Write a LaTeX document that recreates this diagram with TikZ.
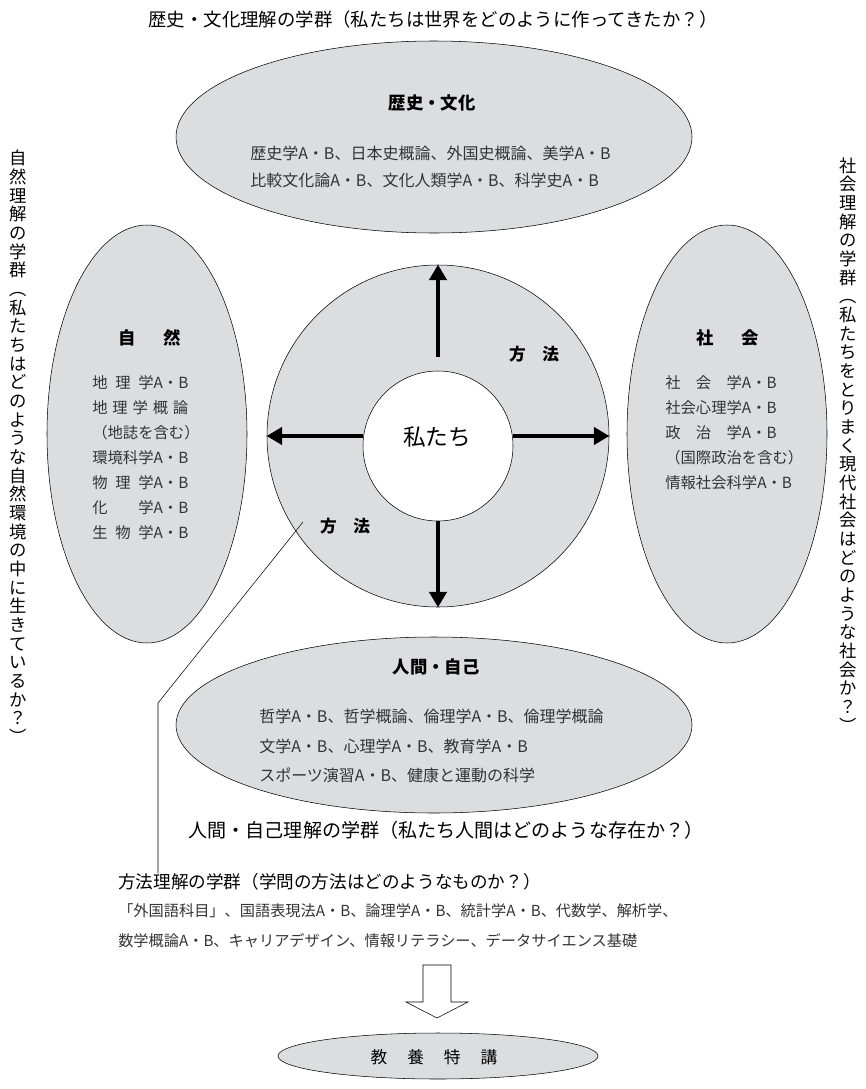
\documentclass[tikz,border=0pt]{standalone}
\usepackage{fontspec}
\usepackage{calc}
\setmainfont{Noto Sans CJK JP}
\usetikzlibrary{shapes.geometric,arrows.meta}

\definecolor{bubblegray}{HTML}{DCDDDF}
\definecolor{inkgray}{HTML}{333333}

\tikzset{
  bubble/.style={ellipse, draw=black, line width=0.4pt, fill=bubblegray, inner sep=0pt},
  ringarrow/.style={line width=2.3pt, -{Triangle[length=11.5pt,width=13pt]}},
  grouplabel/.style={inner sep=0pt, font=\fontsize{13.8}{16}\selectfont},
  fieldhead/.style={inner sep=0pt, font=\fontsize{13}{16}\selectfont\bfseries},
  courselist/.style={inner sep=0pt, align=left, text=inkgray},
  vlabel/.style={inner sep=0pt, align=center, font=\fontsize{13}{14}\selectfont},
}

\begin{document}
\begin{tikzpicture}[x=0.75pt,y=-0.75pt]
  \useasboundingbox (0,0) rectangle (866,1089);

  % four fields round the centre
  \node[bubble, minimum width=387pt, minimum height=144pt] (hist) at (434,137) {};
  \node[bubble, minimum width=150pt, minimum height=313.5pt] (nature) at (147,434) {};
  \node[bubble, minimum width=150pt, minimum height=313.5pt] (society) at (727,434) {};
  \node[bubble, minimum width=387pt, minimum height=132pt] (self) at (434,725) {};

  % method ring and us
  \node[circle, draw=black, line width=0.4pt, fill=bubblegray, minimum size=256.5pt, inner sep=0pt] (ring) at (438,436) {};
  \node[circle, draw=black, line width=0.4pt, fill=white, minimum size=112.5pt, inner sep=0pt] (us) at (438,446) {};
  \node[inner sep=0pt, font=\fontsize{17}{20}\selectfont] (uslabel) at (437,437) {私たち};
  \node[fieldhead, font=\fontsize{12.5}{15}\selectfont\bfseries] (methup) at (534,354) {方\hspace{1em}法};
  \node[fieldhead, font=\fontsize{12.5}{15}\selectfont\bfseries] (methdown) at (345,526) {方\hspace{1em}法};

  \draw[ringarrow] ([yshift=10pt]us.north) -- (ring.north);
  \draw[ringarrow] (ring.center -| us.west) -- (ring.west);
  \draw[ringarrow] (ring.center -| us.east) -- (ring.east);
  \draw[ringarrow] (us.south) -- (ring.south);

  % field texts
  \node[fieldhead] (histhead) at (432,103) {歴史・文化};
  \node[courselist, anchor=west, font=\fontsize{12}{20.25}\selectfont] (histlist) at (250,166.5)
    {歴史学A・B、日本史概論、外国史概論、美学A・B\\
     比較文化論A・B、文化人類学A・B、科学史A・B};

  \node[fieldhead] (naturehead) at (150,338) {自\hspace{1.6em}然};
  \node[courselist, anchor=west, font=\fontsize{11.5}{18.75}\selectfont] (naturelist) at (92,457.5)
    {\makebox[\widthof{環境科学}][s]{地\hfill 理\hfill 学}A・B\\
     \makebox[\widthof{環境科学A・B}][s]{地\hfill 理\hfill 学\hfill 概\hfill 論}\\
     （地誌を含む）\\
     環境科学A・B\\
     \makebox[\widthof{環境科学}][s]{物\hfill 理\hfill 学}A・B\\
     \makebox[\widthof{環境科学}][s]{化\hfill 学}A・B\\
     \makebox[\widthof{環境科学}][s]{生\hfill 物\hfill 学}A・B};

  \node[fieldhead] (societyhead) at (728,338) {社\hspace{1.6em}会};
  \node[courselist, anchor=west, font=\fontsize{11.5}{18.75}\selectfont] (societylist) at (665,433)
    {\makebox[\widthof{社会心理学}][s]{社\hfill 会\hfill 学}A・B\\
     社会心理学A・B\\
     \makebox[\widthof{社会心理学}][s]{政\hfill 治\hfill 学}A・B\\
     （国際政治を含む）\\
     情報社会科学A・B};

  \node[fieldhead] (selfhead) at (436,667) {人間・自己};
  \node[courselist, anchor=west, font=\fontsize{12}{22}\selectfont] (selflist) at (259,746)
    {哲学A・B、哲学概論、倫理学A・B、倫理学概論\\
     文学A・B、心理学A・B、教育学A・B\\
     スポーツ演習A・B、健康と運動の科学};

  % group names
  \node[grouplabel] (histgroup) at (433,20) {歴史・文化理解の学群（私たちは世界をどのように作ってきたか？）};
  \node[grouplabel, font=\fontsize{14.3}{16}\selectfont] (selfgroup) at (446,830) {人間・自己理解の学群（私たち人間はどのような存在か？）};
  \node[vlabel] (naturegroup) at (18,447)
    {自\\然\\理\\解\\の\\学\\群\\︵\\私\\た\\ち\\は\\ど\\の\\よ\\う\\な\\自\\然\\環\\境\\の\\中\\に\\生\\き\\て\\い\\る\\か\\？\\︶};
  \node[vlabel] (societygroup) at (848,445)
    {社\\会\\理\\解\\の\\学\\群\\︵\\私\\た\\ち\\を\\と\\り\\ま\\く\\現\\代\\社\\会\\は\\ど\\の\\よ\\う\\な\\社\\会\\か\\？\\︶};

  % method group and its leader
  \node[grouplabel, font=\fontsize{13.2}{16}\selectfont, anchor=west] (methgroup) at (118,882) {方法理解の学群（学問の方法はどのようなものか？）};
  \node[courselist, anchor=north west, font=\fontsize{11.4}{22.5}\selectfont] (methlist) at (118,903)
    {「外国語科目」、国語表現法A・B、論理学A・B、統計学A・B、代数学、解析学、\\
     数学概論A・B、キャリアデザイン、情報リテラシー、データサイエンス基礎};
  \coordinate (leadstart) at (303,522);
  \coordinate (leadbend) at (158,703);
  \draw[line width=0.4pt] (leadstart) -- (leadbend) -- (leadbend |- methgroup.north);

  % to the special lecture
  \node[bubble, minimum width=240pt, minimum height=34.5pt] (special) at (438,1056) {};
  \node[inner sep=0pt, font=\fontsize{12.5}{15}\selectfont] (speciallabel) at (434,1057)
    {教\hspace{1.2em}養\hspace{1.2em}特\hspace{1.2em}講};
  \coordinate (blocktip) at (437,1018);
  \draw[line width=0.4pt, fill=white] (blocktip) -- ++(-31,-16) -- ++(17,0) -- ++(0,-37)
    -- ++(28,0) -- ++(0,37) -- ++(17,0) -- cycle;
\end{tikzpicture}
\end{document}
